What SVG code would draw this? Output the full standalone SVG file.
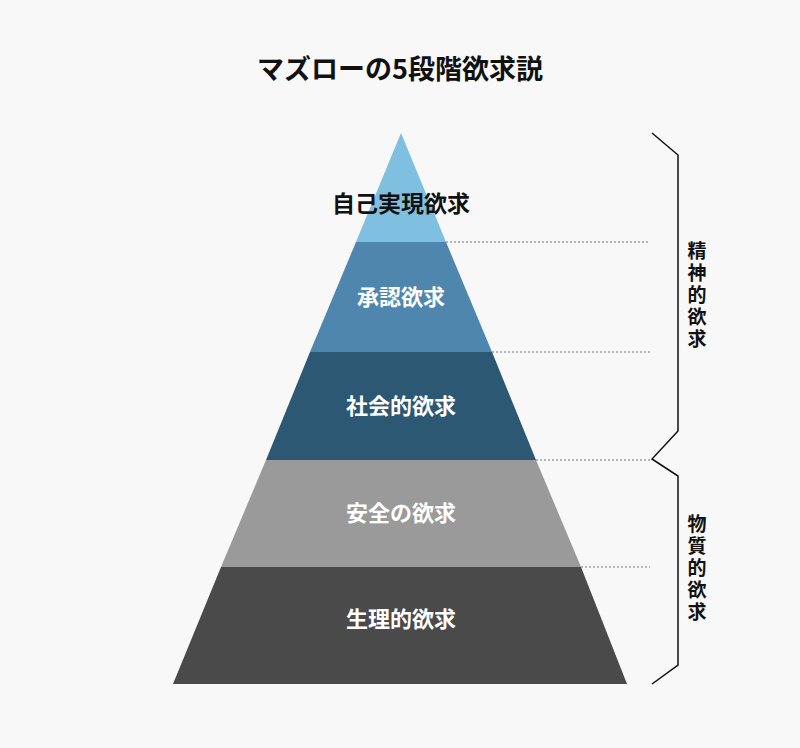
<svg xmlns="http://www.w3.org/2000/svg" width="800" height="748" viewBox="0 0 800 748">
<style>
.t{font-family:"Noto Sans CJK JP",sans-serif;font-weight:bold;text-anchor:middle}
.w{fill:#fff;font-size:22px}
.d{stroke:#777;stroke-width:1;stroke-dasharray:2,2;fill:none}
.b{stroke:#111;stroke-width:1.5;fill:none}
.v{font-size:19px;fill:#111}
</style>
<rect width="800" height="748" fill="#f8f8f8"/>
<text class="t" x="400" y="79" font-size="27" fill="#111">マズローの5段階欲求説</text>
<g id="l5"><polygon points="401,133 446,242 356,242" fill="#7fbfdf"/><text class="t" x="401" y="212" font-size="23" fill="#111">自己実現欲求</text></g>
<g id="l4"><polygon points="356,242 446,242 492,352 310,352" fill="#4f86ae"/><text class="t w" x="401" y="305">承認欲求</text></g>
<g id="l3"><polygon points="310,352 492,352 536,460 266,460" fill="#2d5874"/><text class="t w" x="401" y="414">社会的欲求</text></g>
<g id="l2"><polygon points="266,460 536,460 581,567 221,567" fill="#9a9a9a"/><text class="t w" x="401" y="521">安全の欲求</text></g>
<g id="l1"><polygon points="221,567 581,567 627,684 173,684" fill="#4a4a4a"/><text class="t w" x="401" y="627">生理的欲求</text></g>
<g id="connectors">
<path class="d" d="M446,242H650M492,352H650M536,460H650M581,567H650"/>
<path class="b" d="M652,133L678,155V431L652,459L678,476V665L652,684"/>
</g>
<g id="g1"><text class="t v" x="697" y="258">精</text><text class="t v" x="697" y="280">神</text><text class="t v" x="697" y="302">的</text><text class="t v" x="697" y="324">欲</text><text class="t v" x="697" y="346">求</text></g>
<g id="g2"><text class="t v" x="697" y="531">物</text><text class="t v" x="697" y="553">質</text><text class="t v" x="697" y="575">的</text><text class="t v" x="697" y="597">欲</text><text class="t v" x="697" y="619">求</text></g>
</svg>
